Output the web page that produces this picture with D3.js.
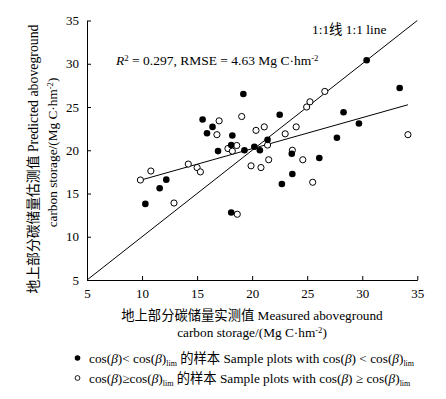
<!DOCTYPE html>
<html>
<head>
<meta charset="utf-8">
<script src="https://cdn.jsdelivr.net/npm/d3@7"></script>
<style>
  body { margin: 0; background: #fff; }
  svg { display: block; }
  text { font-family: "Liberation Serif", "Times New Roman", "Noto Sans CJK SC", serif; fill: #000; }
</style>
</head>
<body>
<div id="chart"></div>
<script>
// measured vs predicted aboveground carbon storage (Mg C/hm2)
// group A: cos(b) < cos(b)lim  (filled dots)
const filledMeasured  = [19.2, 15.5, 16.4, 15.9, 18.2, 18.1, 16.9, 19.3, 20.2, 20.7, 21.4, 22.5, 28.3, 29.7, 27.7, 23.6, 26.1, 23.65, 22.7, 18.1, 12.2, 11.6, 10.3, 30.4, 33.4];
const filledPredicted = [26.5, 23.55, 22.7, 21.96, 21.7, 20.6, 19.9, 20.0, 20.4, 20.0, 21.2, 24.1, 24.4, 23.1, 21.45, 19.6, 19.1, 17.25, 16.1, 12.8, 16.6, 15.6, 13.8, 30.4, 27.2];
// group B: cos(b) >= cos(b)lim  (open dots)
const openMeasured  = [17.0, 19.05, 16.8, 20.35, 21.1, 18.6, 17.8, 18.2, 23.0, 24.0, 21.4, 23.65, 24.6, 21.5, 19.9, 20.8, 26.6, 25.25, 24.95, 34.15, 25.5, 18.65, 12.9, 14.2, 15.0, 15.3, 10.8, 9.85];
const openPredicted = [23.4, 23.9, 21.8, 22.3, 22.7, 20.55, 20.2, 19.9, 21.9, 22.7, 20.6, 20.0, 18.9, 18.9, 18.2, 18.0, 26.8, 25.6, 25.0, 21.8, 16.3, 12.6, 13.9, 18.4, 18.0, 17.5, 17.6, 16.56];

const tickValues = [5, 10, 15, 20, 25, 30, 35];
const fitSlope = 0.359, fitIntercept = 13.0;   // fitted line of predicted on measured

const W = 446, H = 399;
const svg = d3.select("#chart").append("svg").attr("width", W).attr("height", H);

const x = d3.scaleLinear().domain([5, 35]).range([87, 417.3]);
const y = d3.scaleLinear().domain([5, 35]).range([280, 20.5]);

// axes (inward ticks, no box)
svg.append("g")
    .attr("transform", `translate(0,${y(5)})`)
    .call(d3.axisBottom(x).tickValues(tickValues).tickSizeInner(-4).tickSizeOuter(0).tickPadding(9))
    .call(g => g.selectAll("text").attr("font-size", 13));
svg.append("g")
    .attr("transform", `translate(${x(5)},0)`)
    .call(d3.axisLeft(y).tickValues(tickValues).tickSizeInner(-4).tickSizeOuter(0).tickPadding(8))
    .call(g => g.selectAll("text").attr("font-size", 13));
svg.selectAll(".domain, .tick line").attr("stroke", "#000").attr("stroke-width", 1);
svg.selectAll(".tick text").attr("font-family", "Liberation Serif, serif");

// 1:1 line
svg.append("line")
    .attr("x1", x(5)).attr("y1", y(5)).attr("x2", x(35)).attr("y2", y(35))
    .attr("stroke", "#000").attr("stroke-width", 1);

// fitted line across the data range
const allX = filledMeasured.concat(openMeasured);
const [xmin, xmax] = d3.extent(allX);
svg.append("line")
    .attr("x1", x(xmin)).attr("y1", y(fitSlope * xmin + fitIntercept))
    .attr("x2", x(xmax)).attr("y2", y(fitSlope * xmax + fitIntercept))
    .attr("stroke", "#000").attr("stroke-width", 1);

// points
svg.append("g").selectAll("circle")
    .data(openMeasured.map((m, i) => [m, openPredicted[i]]))
    .join("circle")
    .attr("cx", d => x(d[0])).attr("cy", d => y(d[1])).attr("r", 3.1)
    .attr("fill", "#fff").attr("stroke", "#000").attr("stroke-width", 1);
svg.append("g").selectAll("circle")
    .data(filledMeasured.map((m, i) => [m, filledPredicted[i]]))
    .join("circle")
    .attr("cx", d => x(d[0])).attr("cy", d => y(d[1])).attr("r", 3.3)
    .attr("fill", "#000");

// rich text helper: segments [text, kind]
function rich(sel, segs, size) {
  let shift = 0;
  segs.forEach(([t, kind]) => {
    const ts = sel.append("tspan").text(t);
    let want = 0;
    if (kind === "sub") { want = 3; ts.attr("font-size", size * 0.6); }
    else if (kind === "sup") { want = -4; ts.attr("font-size", size * 0.65); }
    else if (kind === "i") ts.attr("font-style", "italic");
    if (want !== shift) { ts.attr("dy", want - shift); shift = want; }
  });
  if (shift !== 0) sel.append("tspan").attr("dy", -shift).text("");
}

svg.append("text").attr("x", 312).attr("y", 34).attr("font-size", 13.4).text("1:1线 1:1 line");

rich(svg.append("text").attr("x", 116).attr("y", 65).attr("font-size", 13.5),
  [["R", "i"], ["2", "sup"], [" = 0.297, RMSE = 4.63 Mg C·hm", ""], ["-2", "sup"]], 13.5);

// axis titles
const xt = svg.append("text").attr("text-anchor", "middle").attr("font-size", 13.3);
xt.append("tspan").attr("x", 252).attr("y", 319.5).text("地上部分碳储量实测值 Measured aboveground");
const xt2 = svg.append("text").attr("text-anchor", "middle").attr("font-size", 13.3).attr("x", 252).attr("y", 336.5);
rich(xt2, [["carbon storage/(Mg C·hm", ""], ["-2", "sup"], [")", ""]], 13.3);

svg.append("text").attr("text-anchor", "middle").attr("font-size", 13.8)
    .attr("transform", "translate(37.5,159) rotate(-90)")
    .text("地上部分碳储量估测值 Predicted aboveground");
rich(svg.append("text").attr("text-anchor", "middle").attr("font-size", 13.3)
    .attr("transform", "translate(56.5,152.5) rotate(-90)"),
  [["carbon storage/(Mg C·hm", ""], ["-2", "sup"], [")", ""]], 13.3);

// legend
const legendRows = [
  { filled: true, segs: [["cos(", ""], ["β", "i"], [")< cos(", ""], ["β", "i"], [")", ""], ["lim", "sub"],
      [" 的样本 Sample plots with cos(", ""], ["β", "i"], [") < cos(", ""], ["β", "i"], [")", ""], ["lim", "sub"]] },
  { filled: false, segs: [["cos(", ""], ["β", "i"], [")≥cos(", ""], ["β", "i"], [")", ""], ["lim", "sub"],
      [" 的样本 Sample plots with cos(", ""], ["β", "i"], [") ≥ cos(", ""], ["β", "i"], [")", ""], ["lim", "sub"]] }
];
legendRows.forEach((r, i) => {
  const cy = 358 + i * 20;
  svg.append("circle").attr("cx", 77.5).attr("cy", cy)
      .attr("r", r.filled ? 2.8 : 2.4)
      .attr("fill", r.filled ? "#000" : "#fff").attr("stroke", "#000").attr("stroke-width", r.filled ? 0 : 0.9);
  rich(svg.append("text").attr("x", 89).attr("y", cy + 4.5).attr("font-size", 13.3), r.segs, 13.3);
});
</script>
</body>
</html>
